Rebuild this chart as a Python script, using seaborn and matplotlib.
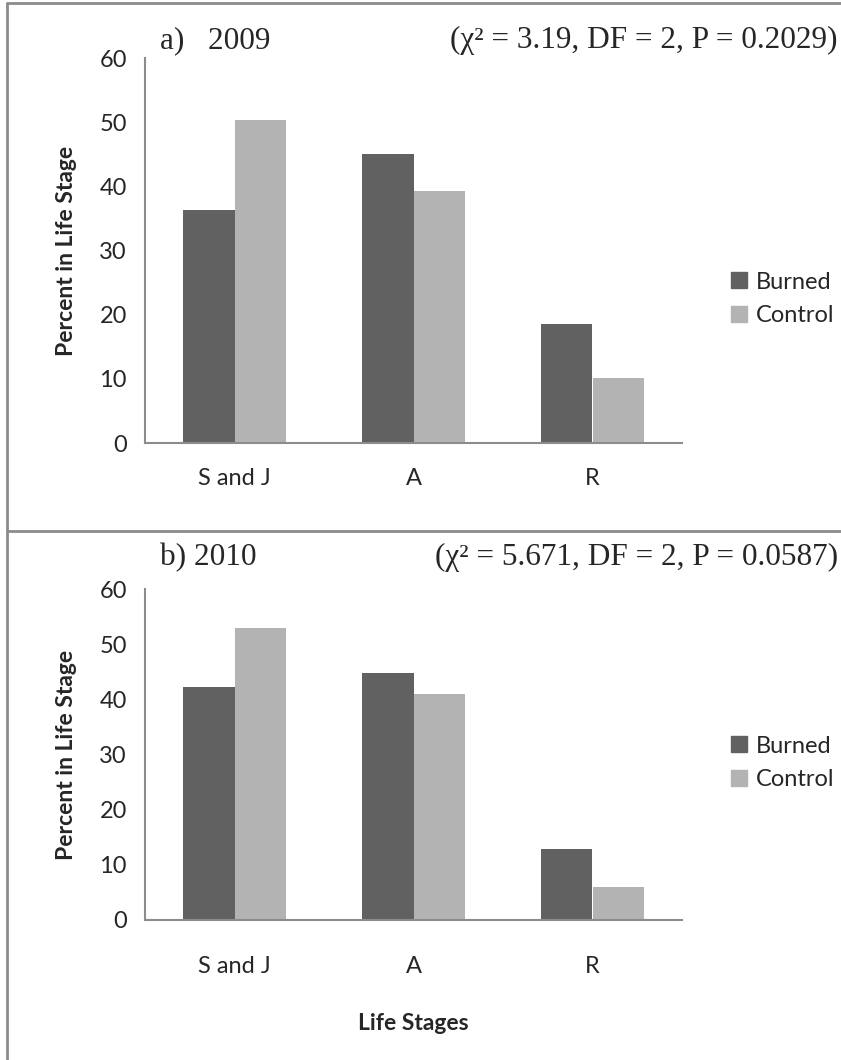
import pandas as pd
import numpy as np
import matplotlib
matplotlib.use('Agg')
import matplotlib.pyplot as plt
import seaborn as sns
from matplotlib.lines import Line2D

sns.set_theme(style="white")
plt.rcParams['font.family'] = ['Lato', 'DejaVu Sans']

# Data
stages = ['S and J', 'A', 'R']
groups = ['Burned', 'Control']
burned_2009 = [36.3, 45.1, 18.5]
control_2009 = [50.4, 39.2, 10.1]
burned_2010 = [42.2, 44.7, 12.8]
control_2010 = [53.0, 40.9, 5.9]
panel_titles = ['a)   2009', 'b) 2010']
stats_texts = ['(χ² = 3.19, DF = 2, P = 0.2029)',
               '(χ² = 5.671, DF = 2, P = 0.0587)']

colors = {'Burned': '#616161', 'Control': '#b3b3b3'}
axis_grey = '#8c8c8c'
serif = ['Liberation Serif', 'DejaVu Serif']


def make_frame(burned, control):
    return pd.DataFrame({
        'stage': stages * 2,
        'group': ['Burned'] * 3 + ['Control'] * 3,
        'percent': burned + control,
    })


frames = [make_frame(burned_2009, control_2009), make_frame(burned_2010, control_2010)]

W, H = 841, 1060
fig = plt.figure(figsize=(W / 100, H / 100), dpi=100)

# axes boxes in pixels: (left, top, right, bottom)
boxes = [(145, 58, 682, 443), (145, 589, 682, 920)]
legend_y = [299, 763]
title_y = [48, 565]
xtick_pad = [18, 26]

for i, (df, box) in enumerate(zip(frames, boxes)):
    l, t, r, b = box
    ax = fig.add_axes([l / W, 1 - b / H, (r - l) / W, (b - t) / H])
    sns.barplot(data=df, x='stage', y='percent', hue='group', palette=colors,
                width=0.57, gap=0, ax=ax, legend=False, errorbar=None,
                saturation=1, edgecolor='none')
    ax.set_xlim(-0.5, 2.5)
    ax.set_ylim(0, 60)
    ax.set_yticks(np.arange(0, 61, 10))
    ax.set_xticks([-0.5, 0.5, 1.5, 2.5], minor=True)
    ax.set_xticks([0, 1, 2])
    ax.set_xticklabels(stages)
    ax.tick_params(axis='x', which='major', length=0, pad=xtick_pad[i], labelsize=17)
    ax.tick_params(axis='x', which='minor', length=7, width=1.5, color=axis_grey, direction='out')
    ax.tick_params(axis='y', length=7, width=1.5, color=axis_grey, direction='out', labelsize=17, pad=6)
    for s in ['top', 'right']:
        ax.spines[s].set_visible(False)
    for s in ['left', 'bottom']:
        ax.spines[s].set_color(axis_grey)
        ax.spines[s].set_linewidth(1.5)
    ax.set_ylabel('Percent in Life Stage', fontsize=16.5, fontweight='bold', labelpad=16)
    ax.set_xlabel('Life Stages' if i == 1 else '', fontsize=16.5, fontweight='bold', labelpad=26)
    ax.patch.set_alpha(0)

    handles = [Line2D([], [], marker='s', linestyle='none', markersize=12,
                      markerfacecolor=colors[g], markeredgecolor=colors[g]) for g in groups]
    fig.legend(handles, groups, loc='center left', bbox_to_anchor=(706 / W, 1 - legend_y[i] / H),
               frameon=False, fontsize=17, handletextpad=0.2, labelspacing=0.55,
               handlelength=1.0)

    fig.text(160 / W, 1 - title_y[i] / H, panel_titles[i], family=serif, fontsize=22.5,
             ha='left', va='baseline')
    fig.text(838 / W, 1 - title_y[i] / H, stats_texts[i], family=serif, fontsize=22.5,
             ha='right', va='baseline')

# panel frame lines
frame_kw = dict(color=axis_grey, linewidth=2, transform=fig.transFigure)
fig.add_artist(Line2D([7 / W, 7 / W], [0, 1 - 3 / H], **frame_kw))
fig.add_artist(Line2D([7 / W, 1], [1 - 3 / H, 1 - 3 / H], **frame_kw))
fig.add_artist(Line2D([7 / W, 1], [1 - 531 / H, 1 - 531 / H], **frame_kw))

fig.savefig('out.png', dpi=100, facecolor='white')
